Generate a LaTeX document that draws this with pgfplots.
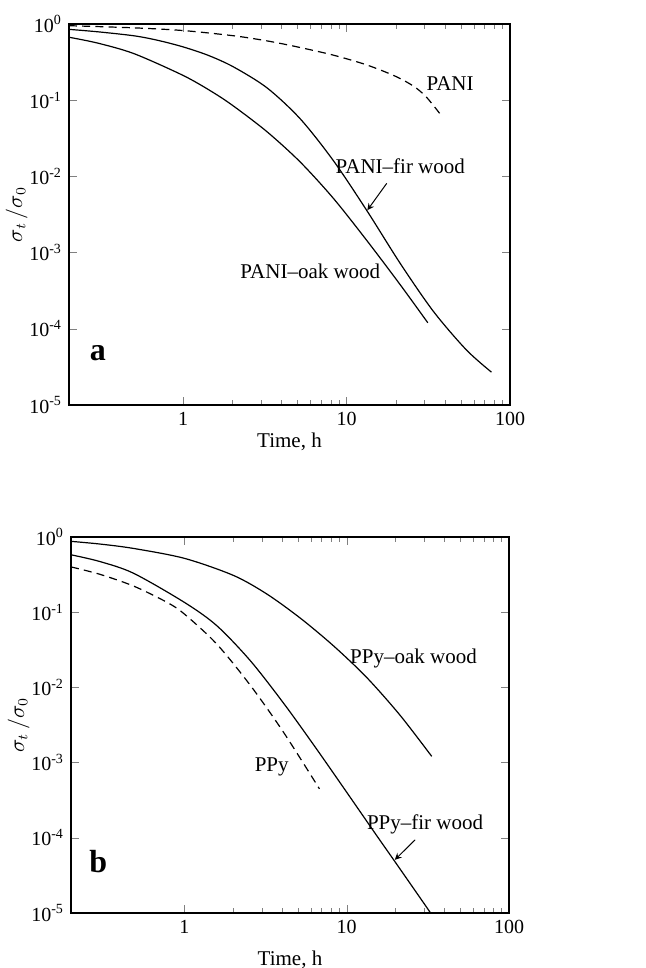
\documentclass[border=0pt]{standalone}
\usepackage{fontspec}
\setmainfont{Liberation Serif}
\usepackage{pgfplots}
\pgfplotsset{compat=1.18}
\begin{document}
\begin{tikzpicture}
\useasboundingbox (0,0) rectangle (322.5pt,484pt);
% ---------- panel a ----------
\begin{axis}[xmode=log, ymode=log, scale only axis,
    width=220.5pt, height=190.5pt, at={(34.5pt,281.5pt)}, anchor=south west,
    xmin=0.2, xmax=100, ymin=1e-5, ymax=1,
    xtick={1,10,100}, xticklabels={1,10,100},
    ytick={1e-5,1e-4,1e-3,1e-2,1e-1,1},
    yticklabels={10\textsuperscript{-5},10\textsuperscript{-4},10\textsuperscript{-3},10\textsuperscript{-2},10\textsuperscript{-1},10\textsuperscript{0}},
    yminorticks=false,
    axis line style={line width=0.9pt},
    major tick length=4pt, minor tick length=2.5pt,
    xlabel={Time, h},
    ylabel={$\sigma_t\,/\sigma_0$},
    xlabel style={yshift=3pt, font=\fontsize{10.5}{12}\selectfont},
    ylabel style={yshift=-6pt, font=\fontsize{10.5}{12}\selectfont},
    ticklabel style={font=\fontsize{10}{12}\selectfont},
    clip=false]
\addplot[black, line width=0.6pt, smooth, dash pattern=on 4pt off 2.6pt] coordinates {(0.2,0.95) (0.5,0.89) (1,0.82) (2.04,0.70) (3.26,0.60) (5,0.50) (8.3,0.39) (13.3,0.29) (20,0.205) (26,0.15) (31,0.108) (38.2,0.062)};
\addplot[black, line width=0.6pt, smooth] coordinates {(0.2,0.85) (0.3,0.79) (0.5,0.70) (0.7,0.61) (1,0.50) (1.43,0.386) (2.04,0.272) (3.26,0.145) (5.2,0.057) (8.3,0.0161) (13.3,0.00356) (21.3,7.2e-4) (34,1.69e-4) (54,5.3e-5) (77,2.7e-5)};
\addplot[black, line width=0.6pt, smooth] coordinates {(0.2,0.67) (0.3,0.561) (0.5,0.408) (1,0.211) (1.5,0.129) (2.04,0.0832) (3.26,0.0385) (5.2,0.01545) (8.3,0.00515) (13.3,0.00144) (21.3,3.78e-4) (31.4,1.2e-4)};
\node[font=\fontsize{10.5}{12}\selectfont] at (axis cs:43,0.165) {PANI};
\node[font=\fontsize{10.5}{12}\selectfont] at (axis cs:21.3,0.0134) {PANI--fir wood};
\node[font=\fontsize{10.5}{12}\selectfont] at (axis cs:6.0,5.6e-4) {PANI--oak wood};
\draw[-stealth, line width=0.5pt] (axis cs:17.6,0.0081) -- (axis cs:13.4,0.0036);
\node[font=\fontsize{16}{16}\selectfont\bfseries] at (axis cs:0.30,4.8e-5) {a};
\end{axis}
% ---------- panel b ----------
\begin{axis}[xmode=log, ymode=log, scale only axis,
    width=219pt, height=188pt, at={(35.5pt,27.5pt)}, anchor=south west,
    xmin=0.2, xmax=100, ymin=1e-5, ymax=1,
    xtick={1,10,100}, xticklabels={1,10,100},
    ytick={1e-5,1e-4,1e-3,1e-2,1e-1,1},
    yticklabels={10\textsuperscript{-5},10\textsuperscript{-4},10\textsuperscript{-3},10\textsuperscript{-2},10\textsuperscript{-1},10\textsuperscript{0}},
    yminorticks=false,
    axis line style={line width=0.9pt},
    major tick length=4pt, minor tick length=2.5pt,
    xlabel={Time, h},
    ylabel={$\sigma_t\,/\sigma_0$},
    xlabel style={yshift=-2pt, font=\fontsize{10.5}{12}\selectfont},
    ylabel style={yshift=-6pt, font=\fontsize{10.5}{12}\selectfont},
    ticklabel style={font=\fontsize{10}{12}\selectfont},
    clip=false]
\addplot[black, line width=0.6pt, smooth] coordinates {(0.2,0.875) (0.3,0.807) (0.485,0.705) (1,0.52) (2,0.309) (3.2,0.176) (5.16,0.0838) (8.3,0.0356) (13.3,0.0135) (21.3,0.00427) (33.4,0.00121)};
\addplot[black, line width=0.6pt, smooth] coordinates {(0.2,0.58) (0.3,0.473) (0.485,0.33) (1,0.135) (1.58,0.0664) (2.54,0.0228) (4.07,0.00622) (6.38,0.00162) (10,4.03e-4) (15.3,1.07e-4) (19.4,5.15e-5) (31.1,1.19e-5) (32.8,1e-5)};
\addplot[black, line width=0.6pt, smooth, dash pattern=on 4pt off 2.6pt] coordinates {(0.2,0.40) (0.3,0.32) (0.485,0.223) (0.78,0.1355) (1,0.0944) (1.58,0.0378) (2.54,0.01074) (4.07,0.00255) (6.79,4.48e-4)};
\node[font=\fontsize{10.5}{12}\selectfont] at (axis cs:25.8,0.0245) {PPy--oak wood};
\node[font=\fontsize{10.5}{12}\selectfont] at (axis cs:3.45,8.9e-4) {PPy};
\node[font=\fontsize{10.5}{12}\selectfont] at (axis cs:30.4,1.5e-4) {PPy--fir wood};
\draw[-stealth, line width=0.5pt] (axis cs:26.4,9.4e-5) -- (axis cs:19.8,5.1e-5);
\node[font=\fontsize{16}{16}\selectfont\bfseries] at (axis cs:0.295,4.9e-5) {b};
\end{axis}
\end{tikzpicture}
\end{document}
